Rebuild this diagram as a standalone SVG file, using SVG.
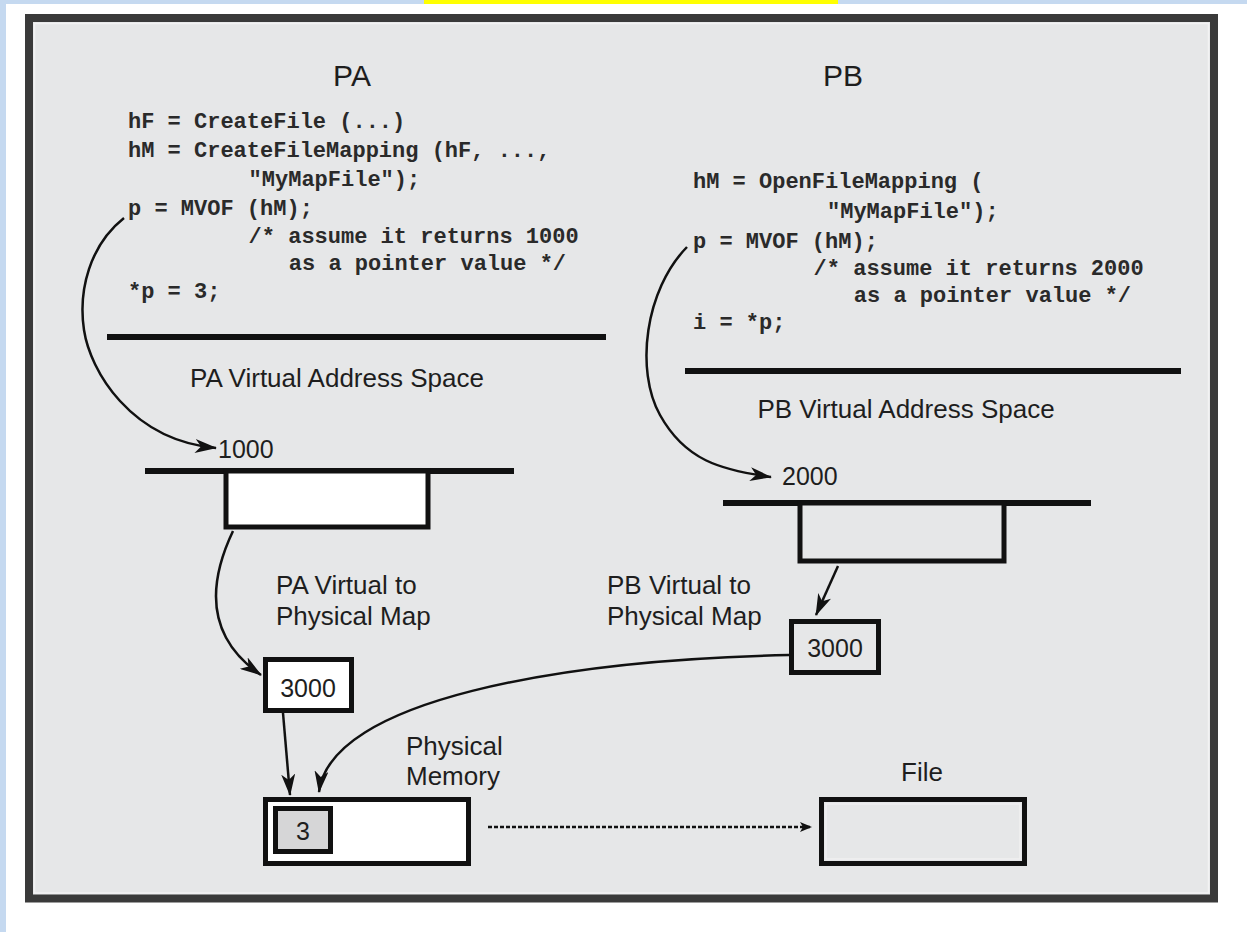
<svg xmlns="http://www.w3.org/2000/svg" width="1247" height="932" viewBox="0 0 1247 932">
<defs>
<style>
.code{font-family:"Liberation Mono","DejaVu Sans Mono",monospace;font-size:22px;font-weight:bold;fill:#2a2a2a;}
.lbl{font-family:"Liberation Sans",Arial,sans-serif;font-size:26px;fill:#1e1e1e;}
.ttl{font-family:"Liberation Sans",Arial,sans-serif;font-size:30px;fill:#1e1e1e;text-anchor:middle;}
.num{font-family:"Liberation Sans",Arial,sans-serif;font-size:25px;fill:#1e1e1e;}
.box{stroke:#111;stroke-width:5;}
.sep{stroke:#111;stroke-width:6;}
.conn{fill:none;stroke:#111;stroke-width:2.5;}
</style>
<marker id="ah" markerWidth="22" markerHeight="14" refX="21" refY="7" orient="auto" markerUnits="userSpaceOnUse">
<path d="M0,0 L22,7 L0,14 L6,7 Z" fill="#111"/>
</marker>
<marker id="ahs" markerWidth="12" markerHeight="10" refX="11" refY="5" orient="auto" markerUnits="userSpaceOnUse">
<path d="M0,0 L12,5 L0,10 L3,5 Z" fill="#111"/>
</marker>
</defs>

<!-- page background -->
<rect x="0" y="0" width="1247" height="932" fill="#ffffff"/>
<rect x="0" y="0" width="1247" height="4" fill="#c5d9f0"/>
<rect x="0" y="0" width="6" height="932" fill="#c5d9f0"/>
<rect x="424" y="0" width="414" height="4" fill="#ffff00"/>

<!-- frame -->
<g id="frame">
<rect x="29" y="18" width="1185" height="880.5" fill="#e6e7e8" stroke="#3a3a3a" stroke-width="8"/>
<rect x="34.5" y="23.5" width="1174" height="869.5" fill="none" stroke="#f2f2f3" stroke-width="1.5"/>
</g>

<g id="pa-title"><text class="ttl" x="352" y="86">PA</text></g>
<g id="pb-title"><text class="ttl" x="843" y="86">PB</text></g>

<g id="pa-code">
<text class="code" x="128" y="128">hF = CreateFile (...)</text>
<text class="code" x="128" y="157">hM = CreateFileMapping (hF, ...,</text>
<text class="code" x="248.6" y="186">"MyMapFile");</text>
<text class="code" x="128" y="215">p = MVOF (hM);</text>
<text class="code" x="248.6" y="243">/* assume it returns 1000</text>
<text class="code" x="288.8" y="270">as a pointer value */</text>
<text class="code" x="128" y="298">*p = 3;</text>
<line class="sep" x1="107" y1="337" x2="606" y2="337"/>
</g>

<g id="pb-code">
<text class="code" x="693" y="188">hM = OpenFileMapping (</text>
<text class="code" x="827" y="218">"MyMapFile");</text>
<text class="code" x="693" y="248">p = MVOF (hM);</text>
<text class="code" x="813.6" y="275">/* assume it returns 2000</text>
<text class="code" x="853.8" y="302">as a pointer value */</text>
<text class="code" x="693" y="329">i = *p;</text>
<line class="sep" x1="685" y1="371" x2="1181" y2="371"/>
</g>

<g id="pa-vas">
<text class="lbl" x="337" y="387" text-anchor="middle">PA Virtual Address Space</text>
<text class="num" x="218" y="458">1000</text>
<line class="sep" x1="145" y1="471" x2="514" y2="471" stroke-width="5"/>
<rect class="box" x="226" y="471" width="202" height="56" fill="#ffffff" stroke-width="4.5"/>
</g>

<g id="pb-vas">
<text class="lbl" x="906" y="418" text-anchor="middle">PB Virtual Address Space</text>
<text class="num" x="782" y="485">2000</text>
<line class="sep" x1="723" y1="503" x2="1091" y2="503" stroke-width="5"/>
<rect class="box" x="800" y="503" width="204" height="58" fill="#e6e7e8" stroke-width="4.5"/>
</g>

<g id="pa-map">
<text class="lbl" x="276" y="594">PA Virtual to</text>
<text class="lbl" x="276" y="625">Physical Map</text>
<rect class="box" x="265.5" y="659.5" width="86" height="51" fill="#ffffff"/>
<text class="num" x="308" y="697" text-anchor="middle">3000</text>
</g>

<g id="pb-map">
<text class="lbl" x="607" y="594">PB Virtual to</text>
<text class="lbl" x="607" y="625">Physical Map</text>
<rect class="box" x="791.5" y="621.5" width="87" height="51" fill="#e6e7e8"/>
<text class="num" x="835" y="657" text-anchor="middle">3000</text>
</g>

<g id="physical-memory">
<text class="lbl" x="406" y="755">Physical</text>
<text class="lbl" x="406" y="785">Memory</text>
<rect class="box" x="265.5" y="799.5" width="203" height="64" fill="#ffffff"/>
<rect class="box" x="275.5" y="808.5" width="55" height="43" fill="#d6d6d7" stroke-width="4.5"/>
<text class="num" x="303" y="840" text-anchor="middle" font-size="21">3</text>
</g>

<g id="file">
<text class="lbl" x="901" y="781">File</text>
<rect class="box" x="821.5" y="799.5" width="203" height="64" fill="#e6e7e8"/>
<rect x="826" y="804" width="194" height="55" fill="none" stroke="#f0f0f1" stroke-width="1.5"/>
</g>

<g id="connectors">
<path class="conn" d="M124,218 C90,245 78,290 84,330 S130,440 216,448" marker-end="url(#ah)"/>
<path class="conn" d="M687,247 C645,290 635,370 660,415 S720,470 771,477" marker-end="url(#ah)"/>
<path class="conn" d="M233,531 C205,590 210,640 261,675" marker-end="url(#ah)"/>
<line class="conn" x1="283" y1="713" x2="290" y2="795" marker-end="url(#ah)"/>
<line class="conn" x1="838" y1="566" x2="816" y2="615" marker-end="url(#ah)"/>
<path class="conn" d="M789,655 C560,660 330,700 319,792" marker-end="url(#ah)"/>
<line class="conn" x1="488" y1="827" x2="811" y2="827" stroke-width="3" stroke-dasharray="4 2" marker-end="url(#ahs)"/>
</g>
</svg>
